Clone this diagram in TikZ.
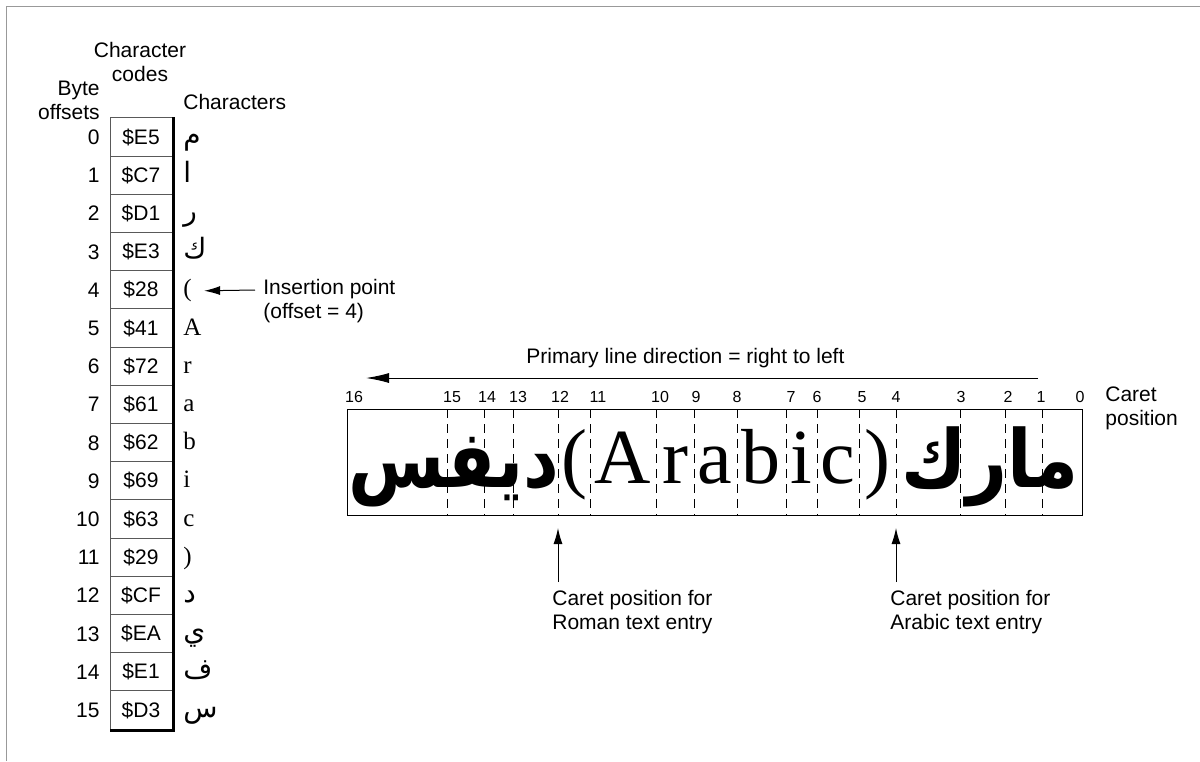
\documentclass[tikz,border=0pt]{standalone}
\usepackage{fontspec}
\setmainfont{Liberation Sans}
\newfontfamily\serifchars{Liberation Serif}
\newfontfamily\arabicfont[Script=Arabic]{DejaVu Sans}
\TeXXeTstate=1
\usetikzlibrary{arrows.meta}
\newcommand\ar[1]{{\fontsize{14}{14}\arabicfont\beginR#1\endR}}
\newcommand\lpar{(}
\newcommand\rpar{)}
\tikzset{
  codecell/.style={draw=black!65, line width=0.5pt, minimum width=31pt, minimum height=19.1pt, inner sep=0pt},
  txt/.style={inner sep=0pt, font=\fontsize{10.5}{12}\selectfont},
  chr/.style={inner sep=0pt, anchor=base west, font=\fontsize{12.5}{13}\serifchars},
  caretnum/.style={inner sep=0pt, font=\fontsize{8}{9}\selectfont},
  caretline/.style={dash pattern=on 4.5pt off 3pt, line width=0.5pt},
  ptr/.style={-{Latex[length=8pt,width=4.5pt]}, line width=0.5pt},
  longptr/.style={-{Latex[length=11.5pt,width=5pt]}, line width=0.5pt},
  bigroman/.style={inner sep=0pt, anchor=base, font=\fontsize{39}{40}\serifchars},
  bigarabic/.style={inner sep=0pt, anchor=base, font=\fontsize{40}{40}\arabicfont\bfseries},
}
\begin{document}
\begin{tikzpicture}[x=0.5pt, y=-0.5pt, font=\fontsize{10.5}{12}\selectfont]
\useasboundingbox (0,0) rectangle (1200,761);
\draw[black!40, line width=0.5pt] (6,761) -- (6,6) -- (1200,6);

% byte table
\node[txt, align=center] (codehead) at (140,62) {Character\\codes};
\node[txt, align=right, anchor=east] (offhead) at (100,100) {Byte\\offsets};
\node[txt, anchor=west] (charhead) at (183,102) {Characters};
\foreach \code [count=\i from 0] in {E5,C7,D1,E3,28,41,72,61,62,69,63,29,CF,EA,E1,D3} {
  \node[codecell] (code\i) at (141,{137+38.2*\i}) {\$\code};
  \node[txt, anchor=base east] (off\i) at (100,{144.5+38.2*\i}) {\i};
}
\foreach \c [count=\i from 0] in {\ar{م},\ar{ا},\ar{ر},\ar{ك},\lpar,A,r,a,b,i,c,\rpar,\ar{د},\ar{ي},\ar{ف},\ar{س}}
  \node[chr] (char\i) at (183,{144+38.2*\i}) {\c};
\draw[line width=1.3pt] ([xshift=0.4pt]code0.north east) -- ([xshift=0.4pt,yshift=-0.4pt]code15.south east) -- ([yshift=-0.4pt]code15.south west);

\node[txt, align=left, anchor=west] (ins) at (263,301) {Insertion point\\(offset = 4)};
\coordinate (insTail) at (255,290);
\draw[ptr] (insTail) -- ([xshift=6pt]char4.east);

% displayed line
\node[txt, anchor=west] (dir) at (526,358) {Primary line direction = right to left};
\coordinate (dirTail) at (1038,378);
\coordinate (dirHead) at (366,378);
\draw[longptr] (dirTail) -- (dirHead);

\node[draw, line width=0.6pt, minimum width=367.5pt, minimum height=53pt, inner sep=0pt, anchor=north west] (line) at (347,409) {};
\foreach \x/\lx/\n in {1082/1080/0,1042/1041/1,1005/1008/2,960/961/3,896/896/4,859/862/5,817/817/6,786/791/7,737/737/8,694/696/9,656/660/10,590/598/11,558/560/12,513/518/13,484/487/14,447/452/15,347/354/16} {
  \node[caretnum] (num\n) at (\lx,397) {\n};
  \coordinate (ct\n) at (\x,409);
  \coordinate (cb\n) at (\x,515);
}
\foreach \n in {1,...,15}
  \draw[caretline] (ct\n) -- (cb\n);
\node[txt, align=left, anchor=west] (caretlbl) at (1105,408) {Caret\\position};

\node[bigarabic] (wordL) at (454,487) {\scalebox{0.87}[1]{\beginR ديفس\endR}};
\node[bigarabic] (wordR) at (990,487) {\scalebox{0.89}[1]{\beginR مارك\endR}};
\foreach \x/\g [count=\k] in {574/\lpar,623/A,675/r,715/a,761/b,801/i,838/c,877/\rpar}
  \node[bigroman] (big\k) at (\x,483) {\g};

\node[txt, align=left, anchor=north west] (romanlbl) at (552,590) {Caret position for\\Roman text entry};
\node[txt, align=left, anchor=north west] (arabiclbl) at (890,590) {Caret position for\\Arabic text entry};
\draw[ptr] ([yshift=4pt]cb12 |- romanlbl.north) -- ([yshift=-6.5pt]cb12);
\draw[ptr] ([yshift=4pt]cb4 |- arabiclbl.north) -- ([yshift=-6.5pt]cb4);
\end{tikzpicture}
\end{document}
